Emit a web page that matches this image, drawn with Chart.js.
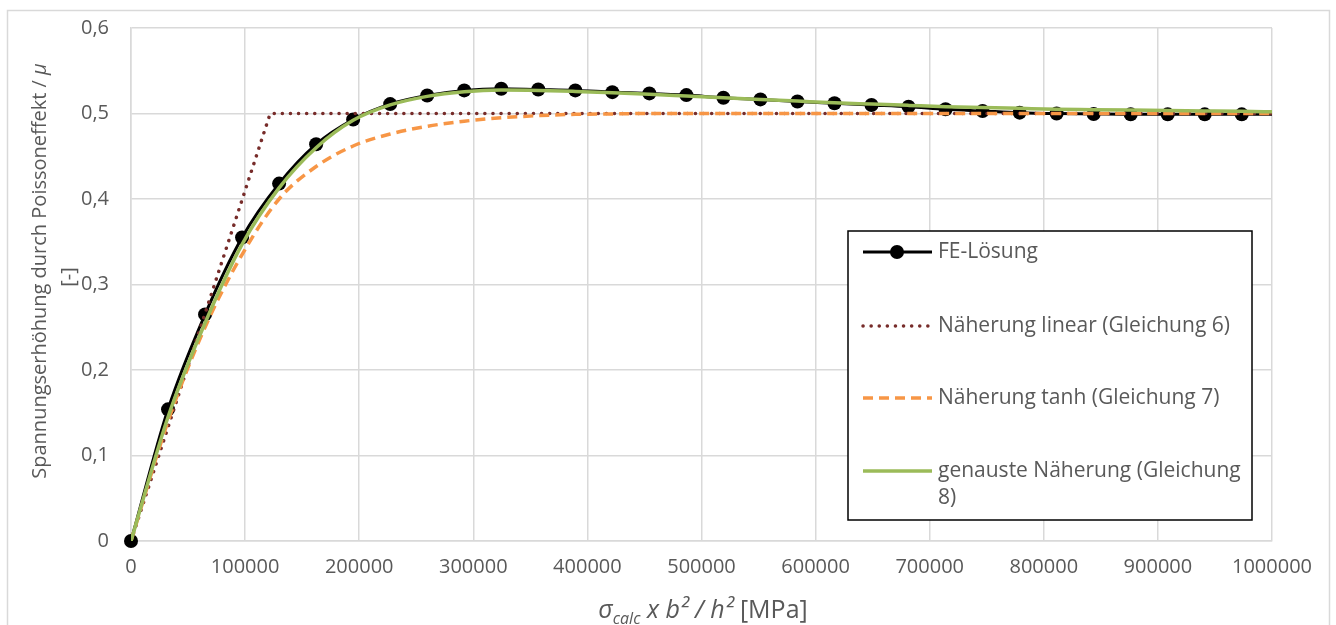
<!DOCTYPE html>
<html>
<head>
<meta charset="utf-8">
<script src="https://cdn.jsdelivr.net/npm/chart.js@4.4.1/dist/chart.umd.min.js"></script>
<style>
  html, body { margin: 0; padding: 0; background: #fff; }
</style>
</head>
<body>
<canvas id="c" width="1336" height="625"></canvas>
<script>
// x positions shared by FE points and the two smooth approximations
const xValues = [0, 32450, 64900, 97350, 129800, 162250, 194700, 227150, 259600, 292050,
  324500, 356950, 389400, 421850, 454300, 486750, 519200, 551650, 584100, 616550,
  649000, 681450, 713900, 746350, 778800, 811250, 843700, 876150, 908600, 941050,
  973500, 1000000];

const feValues = [0, 0.154, 0.265, 0.355, 0.418, 0.464, 0.493, 0.511, 0.521, 0.527,
  0.529, 0.528, 0.527, 0.525, 0.5235, 0.5215, 0.5185, 0.5165, 0.514, 0.512,
  0.510, 0.508, 0.505, 0.503, 0.501, 0.500, 0.4995, 0.499, 0.499, 0.499,
  0.499, 0.499];

const linearX = [0, 122000, 1000000];
const linearValues = [0, 0.5, 0.5];

const tanhValues = [0, 0.14, 0.25, 0.335, 0.40, 0.438, 0.462, 0.476, 0.485, 0.491,
  0.495, 0.4975, 0.499, 0.4995, 0.5, 0.5, 0.5, 0.5, 0.5, 0.5,
  0.5, 0.5, 0.5, 0.5, 0.5, 0.5, 0.5, 0.5, 0.5, 0.5,
  0.5, 0.5];

const bestValues = [0, 0.145, 0.255, 0.347, 0.413, 0.460, 0.492, 0.510, 0.520, 0.5255,
  0.5275, 0.527, 0.5258, 0.5243, 0.5225, 0.5205, 0.5185, 0.5165, 0.5145, 0.5125,
  0.511, 0.5095, 0.508, 0.507, 0.506, 0.505, 0.5045, 0.504, 0.5035, 0.503,
  0.5025, 0.502];

const seriesNames = ['FE-Lösung', 'Näherung linear (Gleichung 6)', 'Näherung tanh (Gleichung 7)', 'genauste Näherung (Gleichung 8)'];

const FONT = '"Open Sans", "Liberation Sans", sans-serif';
const TXT = '#595959';
const GRID = '#d9d9d9';

const pts = (xs, ys) => xs.map((x, i) => ({x: x, y: ys[i]}));

// frame, axis titles, legend box
const decor = {
  id: 'decor',
  afterDraw(chart) {
    const ctx = chart.ctx;
    ctx.save();

    // outer frame
    ctx.strokeStyle = GRID;
    ctx.lineWidth = 1.5;
    ctx.beginPath();
    ctx.moveTo(7.5, 640);
    ctx.lineTo(7.5, 10.5);
    ctx.lineTo(1329.5, 10.5);
    ctx.lineTo(1329.5, 640);
    ctx.stroke();

    // y title
    ctx.fillStyle = TXT;
    ctx.textBaseline = 'middle';
    ctx.save();
    ctx.translate(40, 271);
    ctx.rotate(-Math.PI / 2);
    const t1 = 'Spannungserhöhung durch Poissoneffekt / ';
    ctx.font = '20px ' + FONT;
    const w1 = ctx.measureText(t1).width;
    ctx.font = 'italic 20px ' + FONT;
    const w2 = ctx.measureText('μ').width;
    let sx = -(w1 + w2) / 2;
    ctx.textAlign = 'left';
    ctx.font = '20px ' + FONT;
    ctx.fillText(t1, sx, 0);
    ctx.font = 'italic 20px ' + FONT;
    ctx.fillText('μ', sx + w1, 0);
    ctx.restore();
    ctx.save();
    ctx.translate(69, 277);
    ctx.rotate(-Math.PI / 2);
    ctx.textAlign = 'center';
    ctx.font = '20px ' + FONT;
    ctx.fillText('[-]', 0, 0);
    ctx.restore();

    // x title with subscript
    const parts = [
      {t: 'σ', f: 'italic 25px ' + FONT, dy: 0},
      {t: 'calc', f: 'italic 16px ' + FONT, dy: 6},
      {t: ' x b² / h²', f: 'italic 25px ' + FONT, dy: 0},
      {t: ' [MPa]', f: '25px ' + FONT, dy: 0}
    ];
    let total = 0;
    parts.forEach(p => { ctx.font = p.f; p.w = ctx.measureText(p.t).width; total += p.w; });
    let px = 703 - total / 2;
    ctx.textAlign = 'left';
    ctx.textBaseline = 'alphabetic';
    parts.forEach(p => { ctx.font = p.f; ctx.fillText(p.t, px, 618 + p.dy); px += p.w; });

    // legend
    const bx = 848, by = 231, bw = 404, bh = 289;
    ctx.fillStyle = '#fff';
    ctx.fillRect(bx, by, bw, bh);
    ctx.strokeStyle = '#000';
    ctx.lineWidth = 1.5;
    ctx.strokeRect(bx, by, bw, bh);

    const ds = chart.data.datasets;
    const rows = [252, 326, 398, 471];
    rows.forEach((y, i) => {
      const d = ds[i];
      ctx.save();
      ctx.strokeStyle = d.borderColor;
      ctx.lineWidth = d.borderWidth;
      ctx.lineCap = d.borderCapStyle || 'butt';
      ctx.setLineDash(d.borderDash || []);
      ctx.beginPath();
      ctx.moveTo(863, y);
      ctx.lineTo(932, y);
      ctx.stroke();
      if (i === 0) {
        ctx.setLineDash([]);
        ctx.fillStyle = '#000';
        ctx.beginPath();
        ctx.arc(897, y, 7, 0, Math.PI * 2);
        ctx.fill();
      }
      ctx.restore();
    });
    ctx.fillStyle = TXT;
    ctx.font = '21px ' + FONT;
    ctx.textBaseline = 'middle';
    ctx.fillText(seriesNames[0], 938, 252);
    ctx.fillText(seriesNames[1], 938, 326);
    ctx.fillText(seriesNames[2], 938, 398);
    ctx.fillText('genauste Näherung (Gleichung', 938, 471);
    ctx.fillText('8)', 938, 498);

    ctx.restore();
  }
};

new Chart(document.getElementById('c'), {
  type: 'line',
  data: {
    datasets: [
      {
        label: seriesNames[0],
        data: pts(xValues, feValues),
        borderColor: '#000',
        backgroundColor: '#000',
        borderWidth: 3,
        pointRadius: ctx => ctx.dataIndex === xValues.length - 1 ? 0 : 7,
        pointBorderWidth: 0,
        cubicInterpolationMode: 'monotone',
        clip: false,
        order: 4
      },
      {
        label: seriesNames[1],
        data: pts(linearX, linearValues),
        borderColor: '#772c2a',
        borderWidth: 3.5,
        borderDash: [0.1, 8],
        borderCapStyle: 'round',
        pointRadius: 0,
        tension: 0,
        order: 3
      },
      {
        label: seriesNames[2],
        data: pts(xValues, tanhValues),
        borderColor: '#f79646',
        borderWidth: 3.5,
        borderDash: [10, 6],
        pointRadius: 0,
        cubicInterpolationMode: 'monotone',
        order: 2
      },
      {
        label: seriesNames[3],
        data: pts(xValues, bestValues),
        borderColor: '#9bbb59',
        borderWidth: 3.5,
        pointRadius: 0,
        cubicInterpolationMode: 'monotone',
        order: 1
      }
    ]
  },
  options: {
    responsive: false,
    animation: false,
    layout: {padding: {left: 0, top: 28, right: 64, bottom: 0}},
    plugins: {legend: {display: false}, tooltip: {enabled: false}},
    scales: {
      x: {
        type: 'linear',
        min: 0,
        max: 1000000,
        afterFit: s => { s.height = 84; },
        grid: {color: GRID, lineWidth: 1.5, drawTicks: false},
        border: {color: GRID, width: 1.5},
        ticks: {
          stepSize: 100000,
          padding: 14,
          color: TXT,
          font: {family: FONT, size: 20},
          maxRotation: 0,
          callback: v => String(v)
        }
      },
      y: {
        min: 0,
        max: 0.6,
        afterFit: s => { s.width = 131; s.paddingTop = 12; s.paddingBottom = 12; },
        grid: {color: GRID, lineWidth: 1.5, drawTicks: false},
        border: {color: GRID, width: 1.5},
        ticks: {
          stepSize: 0.1,
          padding: 22,
          color: TXT,
          font: {family: FONT, size: 20},
          callback: v => v === 0 ? '0' : v.toFixed(1).replace('.', ',')
        }
      }
    }
  },
  plugins: [decor]
});
</script>
</body>
</html>
